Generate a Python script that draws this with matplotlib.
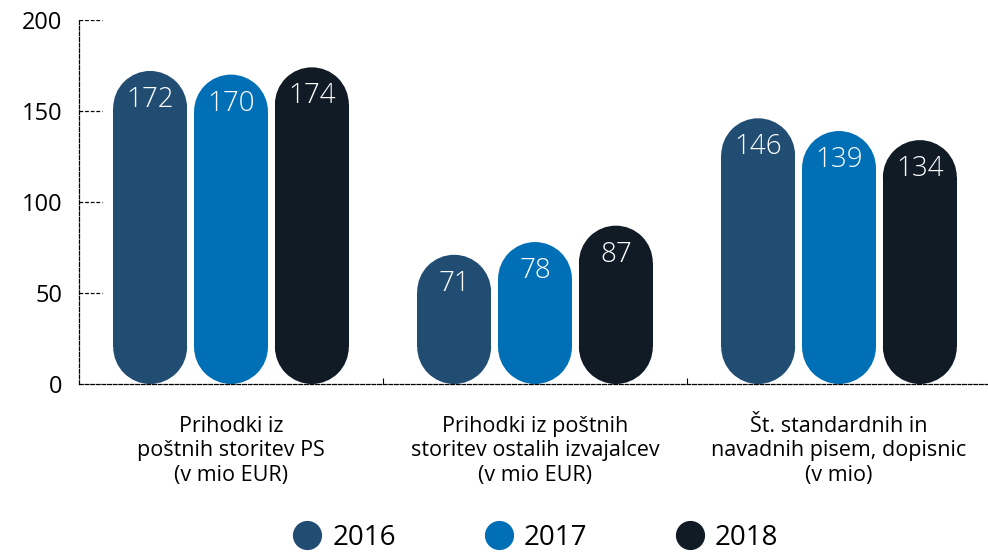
import matplotlib.pyplot as plt
from matplotlib.patches import Ellipse, Rectangle
from matplotlib.lines import Line2D
import numpy as np

plt.rcParams['font.family'] = ['Open Sans', 'DejaVu Sans']

categories = ["Prihodki iz\npoštnih storitev PS\n(v mio EUR)",
              "Prihodki iz poštnih\nstoritev ostalih izvajalcev\n(v mio EUR)",
              "Št. standardnih in\nnavadnih pisem, dopisnic\n(v mio)"]
years = ["2016", "2017", "2018"]
values_2016 = [172, 71, 146]
values_2017 = [170, 78, 139]
values_2018 = [174, 87, 134]
colors = ["#214d73", "#006fb6", "#111b26"]

fig = plt.figure(figsize=(9.88, 5.53), dpi=100)
ax = fig.add_axes([79/988, 169/553, 912/988, 364/553])
ax.set_xlim(-0.5, 2.5)
ax.set_ylim(0, 200)

x = np.arange(len(categories))
width = 0.243
offsets = [-0.266, 0, 0.266]
series = [values_2016, values_2017, values_2018]

# y data units per x data unit on screen, so the caps are true circles
p0 = ax.transData.transform((0, 0))
p1 = ax.transData.transform((1, 1))
aspect = (p1[0] - p0[0]) / (p1[1] - p0[1])

for vals, off, col, yr in zip(series, offsets, colors, years):
    bars = ax.bar(x + off, vals, width=width, color=col, label=yr)
    for b, v in zip(bars, vals):
        b.set_visible(False)
        w = b.get_width()
        cx = b.get_x() + w / 2
        ry = w / 2 * aspect
        ax.add_patch(Rectangle((b.get_x(), ry), w, v - 2 * ry, facecolor=col,
                               edgecolor='none'))
        for cy in (ry, v - ry):
            ax.add_patch(Ellipse((cx, cy), w, 2 * ry, facecolor=col, edgecolor='none'))
        ax.annotate(str(v), (cx, v), xytext=(0, -21), textcoords='offset points',
                    ha='center', va='center', color='white',
                    fontsize=20, fontweight='light')

# axes styling
for s in ['top', 'right']:
    ax.spines[s].set_visible(False)
for s in ['left', 'bottom']:
    ax.spines[s].set_linestyle((0, (3, 1.5)))
    ax.spines[s].set_linewidth(0.9)

ax.set_yticks([0, 50, 100, 150, 200])
ax.tick_params(axis='y', length=0, pad=12, labelsize=17)
for t in [50, 100, 150, 200]:
    ax.axhline(t, xmin=0, xmax=23/912, color='black', lw=0.9, ls=(0, (3, 1.5)))

ax.set_xticks(x)
ax.set_xticklabels(categories, fontsize=15.5, linespacing=1.22)
ax.tick_params(axis='x', length=0, pad=23)
ax.set_xticks([0.5, 1.5], minor=True)
ax.tick_params(axis='x', which='minor', direction='in', length=4, width=0.8)

handles = [Line2D([], [], marker='o', ls='none', markersize=20, color=c) for c in colors]
fig.legend(handles, years, loc='center', bbox_to_anchor=(536/988, 1 - 538/553),
           ncol=3, frameon=False, fontsize=20, handlelength=1, handletextpad=0.4,
           columnspacing=3.2)

fig.savefig("out.png", dpi=100)
